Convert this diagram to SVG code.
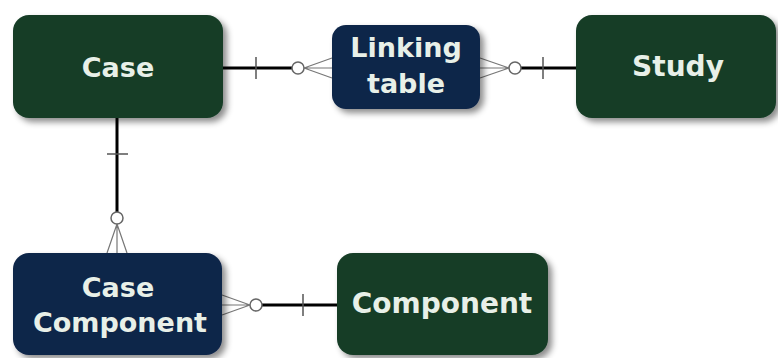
<svg xmlns="http://www.w3.org/2000/svg" width="778" height="358" viewBox="0 0 778 358">
<defs>
<filter id="sh" x="-10%" y="-10%" width="125%" height="130%">
<feDropShadow dx="4" dy="4" stdDeviation="3" flood-color="#000" flood-opacity="0.45"/>
</filter>
</defs>
<style>
.green{fill:#173d28;filter:url(#sh)}
.navy{fill:#0f2548;filter:url(#sh)}
.lbl{font-family:"DejaVu Sans",Verdana,sans-serif;font-weight:bold;font-size:27px;fill:#e8f0e8;text-anchor:middle}
.thick{stroke:#000;stroke-width:3;fill:none}
.tick{stroke:#555;stroke-width:1.5;fill:none}
.thin{stroke:#777;stroke-width:1.2;fill:none}
.circ{stroke:#666;stroke-width:1.5;fill:#fff}
</style>
<g id="connectors">
<!-- Case - Linking table -->
<line class="thick" x1="223" y1="68" x2="292" y2="68"/>
<line class="tick" x1="256" y1="57" x2="256" y2="79"/>
<path class="thin" d="M304 68 L332 58 M304 68 L332 68 M304 68 L332 78"/>
<circle class="circ" cx="298" cy="68" r="6"/>
<!-- Linking table - Study -->
<line class="thick" x1="521" y1="68" x2="577" y2="68"/>
<line class="tick" x1="543" y1="57" x2="543" y2="79"/>
<path class="thin" d="M509 68 L480 58 M509 68 L480 68 M509 68 L480 78"/>
<circle class="circ" cx="515" cy="68" r="6"/>
<!-- Case - Case Component -->
<line class="thick" x1="117" y1="118" x2="117" y2="212"/>
<line class="tick" x1="107" y1="154" x2="128" y2="154"/>
<path class="thin" d="M117 224 L107 253 M117 224 L117 253 M117 224 L127 253"/>
<circle class="circ" cx="117" cy="218" r="6"/>
<!-- Case Component - Component -->
<line class="thick" x1="262" y1="305" x2="338" y2="305"/>
<line class="tick" x1="303" y1="294" x2="303" y2="316"/>
<path class="thin" d="M250 305 L222 295 M250 305 L222 305 M250 305 L222 315"/>
<circle class="circ" cx="256" cy="305" r="6"/>
</g>
<g id="case">
<rect class="green" x="13" y="15" width="210" height="103" rx="16"/>
<text class="lbl" x="118" y="77">Case</text>
</g>
<g id="linking-table">
<rect class="navy" x="332" y="25" width="148" height="84" rx="14"/>
<text class="lbl" x="406" y="57">Linking</text>
<text class="lbl" x="406" y="93">table</text>
</g>
<g id="study">
<rect class="green" x="576" y="15" width="200" height="103" rx="16"/>
<text class="lbl" x="678" y="76" style="font-size:28px">Study</text>
</g>
<g id="case-component">
<rect class="navy" x="13" y="253" width="209" height="102" rx="16"/>
<text class="lbl" x="118" y="297">Case</text>
<text class="lbl" x="120" y="332">Component</text>
</g>
<g id="component">
<rect class="green" x="337" y="253" width="211" height="102" rx="16"/>
<text class="lbl" x="442" y="313" style="font-size:28px">Component</text>
</g>
</svg>
